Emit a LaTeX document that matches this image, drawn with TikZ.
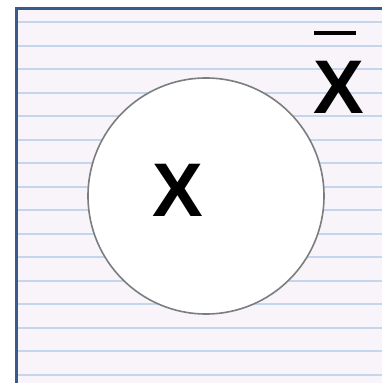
\documentclass[tikz,border=0pt]{standalone}
\usepackage{fontspec}
\setmainfont{Liberation Sans}
\definecolor{paper}{HTML}{F9F4FA}
\definecolor{rule}{HTML}{C3D6EE}
\definecolor{frame}{HTML}{3B5A8C}
\definecolor{ring}{HTML}{7A7E7E}
\begin{document}
\begin{tikzpicture}[x=1pt,y=-1pt,
  ruleline/.style={draw=rule,line width=2pt},
  biglabel/.style={inner sep=0pt,font=\fontsize{76}{76}\selectfont\bfseries}]
\useasboundingbox (0,0) rectangle (382,383);
\fill[white] (0,0) rectangle (382,383);
\fill[paper] (16,8) rectangle (382,383);
\foreach \k in {0,...,15}{
  \draw[ruleline] (18,{22+\k*23.5}) -- (382,{22+\k*23.5});
}
\draw[frame,line width=3pt] (16.5,383) -- (16.5,8.5) -- (382,8.5);
\node[circle,draw=ring,fill=white,line width=1.6pt,minimum size=236pt,inner sep=0pt] (set) at (206,196) {};
\node[biglabel] (x) at (178,190) {X};
\node[biglabel] (xc) at (339,87) {X};
\coordinate (barl) at (314,33);
\coordinate (barr) at (356,33);
\draw[black,line width=4pt] (barl) -- (barr);
\end{tikzpicture}
\end{document}
